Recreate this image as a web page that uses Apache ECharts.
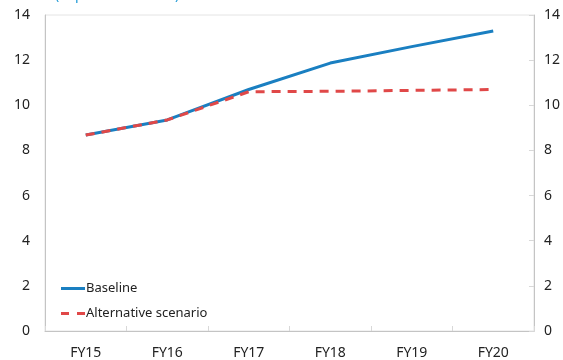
<!DOCTYPE html>
<html>
<head>
<meta charset="utf-8">
<script src="https://cdn.jsdelivr.net/npm/echarts@6/dist/echarts.min.js"></script>
<style>
  html, body { margin: 0; padding: 0; background: #fff; }
  #chart { width: 563px; height: 360px; }
</style>
</head>
<body>
<div id="chart"></div>
<script>
// Fiscal years on the horizontal axis
const categories = ['FY15', 'FY16', 'FY17', 'FY18', 'FY19', 'FY20'];
// Debt ratio, in percent of GDP
const baseline = [8.68, 9.35, 10.70, 11.87, 12.60, 13.29];
const alternative = [8.68, 9.35, 10.60, 10.62, 10.66, 10.70];
const yTicks = [0, 2, 4, 6, 8, 10, 12, 14];

const FONT = '"Noto Sans", "Open Sans", sans-serif';
const chart = echarts.init(document.getElementById('chart'), null, { renderer: 'canvas' });

chart.setOption({
  animation: false,
  backgroundColor: '#ffffff',
  textStyle: { fontFamily: FONT },
  grid: {
    left: 45, right: 28, top: 15, bottom: 29,
    show: true, borderColor: '#e4e4e4', borderWidth: 1
  },
  graphic: [{
    type: 'text',
    left: 55, top: -12,
    style: { text: '(in percent of GDP)', fill: '#1f9ad6', font: '14px ' + FONT }
  }],
  legend: {
    orient: 'vertical',
    left: 56, top: 277,
    itemWidth: 24, itemHeight: 3, itemGap: 12,
    textStyle: { fontSize: 13, color: '#222', fontFamily: FONT, padding: [0, 0, 0, -4] },
    data: [
      { name: 'Baseline', icon: 'rect', itemStyle: { color: '#1a7fc1' } },
      { name: 'Alternative scenario', icon: 'path://M0,0h8v3h-8z M16,0h8v3h-8z', itemStyle: { color: '#e04848' } }
    ]
  },
  xAxis: {
    type: 'category',
    data: categories,
    boundaryGap: true,
    axisLine: { lineStyle: { color: '#c4c4c4' } },
    axisTick: { show: true, inside: true, length: 5, lineStyle: { color: '#d8d8d8' } },
    axisLabel: { color: '#222', fontSize: 14, margin: 15, fontFamily: FONT },
    splitLine: { show: false }
  },
  yAxis: [{
    type: 'value', min: 0, max: 14, interval: 2,
    position: 'left',
    axisLine: { show: true, lineStyle: { color: '#c4c4c4' } },
    axisTick: { show: false },
    axisLabel: {
      color: '#222', fontSize: 14, margin: 15, fontFamily: FONT,
      formatter: v => yTicks.includes(v) ? String(v) : ''
    },
    splitLine: { show: false }
  }, {
    type: 'value', min: 0, max: 14, interval: 2,
    position: 'right',
    axisLine: { show: true, lineStyle: { color: '#c4c4c4' } },
    axisTick: { show: true, inside: true, length: 5, lineStyle: { color: '#d8d8d8' } },
    axisLabel: {
      color: '#222', fontSize: 14, margin: 10, fontFamily: FONT,
      formatter: v => yTicks.includes(v) ? String(v) : ''
    },
    splitLine: { show: false }
  }],
  series: [{
    name: 'Baseline',
    type: 'line',
    data: baseline,
    symbol: 'none',
    lineStyle: { color: '#1a7fc1', width: 3 },
    itemStyle: { color: '#1a7fc1' },
    z: 2
  }, {
    name: 'Alternative scenario',
    type: 'line',
    data: alternative,
    symbol: 'none',
    lineStyle: { color: '#e04848', width: 3, type: [9, 7] },
    itemStyle: { color: '#e04848' },
    z: 3
  }]
});
</script>
</body>
</html>
